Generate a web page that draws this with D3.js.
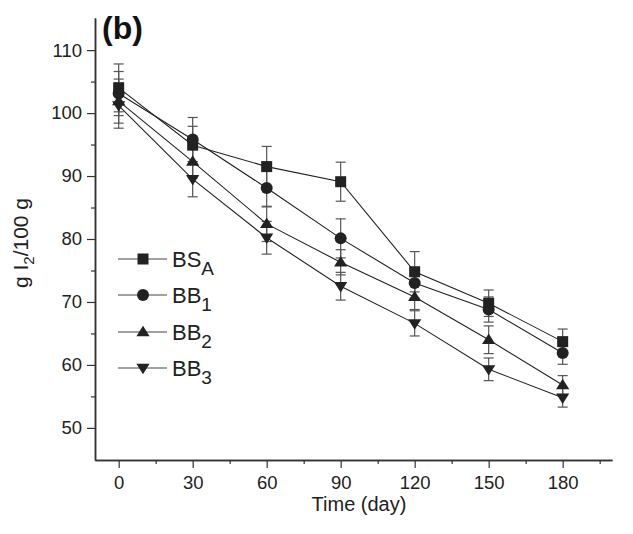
<!DOCTYPE html>
<html>
<head>
<meta charset="utf-8">
<script src="https://cdn.jsdelivr.net/npm/d3@7"></script>
<style>
  html, body { margin: 0; padding: 0; background: #fff; }
  svg { display: block; font-family: "Liberation Sans", Arial, sans-serif; }
</style>
</head>
<body>
<svg id="chart" width="633" height="534"></svg>
<script>
// Sampling days
const days = [0, 30, 60, 90, 120, 150, 180];

// Iodine value (g I2/100 g) per blend, with standard deviations
const bsA = [104.0, 94.9, 91.5, 89.1, 74.8, 69.8, 63.7];
const bb1 = [103.1, 95.8, 88.1, 80.1, 73.0, 68.8, 61.9];
const bb2 = [101.9, 92.3, 82.4, 76.3, 70.8, 64.0, 56.8];
const bb3 = [101.2, 89.5, 80.2, 72.5, 66.6, 59.3, 54.8];

const bsAErr = [3.8, 3.0, 3.2, 3.1, 3.2, 2.1, 2.0];
const bb1Err = [3.5, 3.5, 3.0, 3.1, 2.4, 2.0, 1.8];
const bb2Err = [3.5, 2.6, 2.8, 2.0, 2.0, 2.2, 1.5];
const bb3Err = [3.6, 2.8, 2.6, 2.2, 2.0, 1.8, 1.5];

const seriesNames = ["BS", "BB", "BB", "BB"];
const seriesSubs = ["A", "1", "2", "3"];
const seriesShapes = ["square", "circle", "up", "down"];

const xTicks = [0, 30, 60, 90, 120, 150, 180];
const yTicks = [50, 60, 70, 80, 90, 100, 110];

const series = [bsA, bb1, bb2, bb3].map((vals, i) => ({
  name: seriesNames[i],
  sub: seriesSubs[i],
  shape: seriesShapes[i],
  values: vals.map((v, j) => ({ day: days[j], v, err: [bsAErr, bb1Err, bb2Err, bb3Err][i][j] }))
}));

const svg = d3.select("#chart");
const margin = { left: 95, top: 18, right: 21, bottom: 74 };
const W = 633, H = 534;

const x = d3.scaleLinear().domain([-9.6, 200]).range([margin.left, W - margin.right]);
const y = d3.scaleLinear().domain([44.9, 115.1]).range([H - margin.bottom, margin.top]);

const ink = "#222";
const axisInk = "#333";

// Axes
const xAxis = d3.axisBottom(x).tickValues(xTicks).tickSize(8).tickSizeOuter(0).tickPadding(8);
const xMinor = d3.axisBottom(x).tickValues(d3.range(15, 200, 30)).tickSize(4).tickSizeOuter(0).tickFormat("");
const yAxis = d3.axisLeft(y).tickValues(yTicks).tickSize(8).tickSizeOuter(0).tickPadding(5);
const yMinor = d3.axisLeft(y).tickValues(d3.range(55, 115, 10)).tickSize(4).tickSizeOuter(0).tickFormat("");

function styleAxis(g) {
  g.select(".domain").attr("stroke", axisInk).attr("stroke-width", 1.5);
  g.selectAll(".tick line").attr("stroke", axisInk).attr("stroke-width", 1.2);
  g.selectAll(".tick text").attr("fill", "#222").style("font-size", "18.5px")
    .style("font-family", "'Liberation Sans', Arial, sans-serif");
}

svg.append("g").attr("transform", `translate(0,${y.range()[0]})`).call(xMinor).call(styleAxis);
svg.append("g").attr("transform", `translate(0,${y.range()[0]})`).call(xAxis).call(styleAxis);
svg.append("g").attr("transform", `translate(${x.range()[0]},0)`).call(yMinor).call(styleAxis);
svg.append("g").attr("transform", `translate(${x.range()[0]},0)`).call(yAxis).call(styleAxis);

// Axis titles
svg.append("text")
  .attr("x", 359).attr("y", 511)
  .attr("text-anchor", "middle").attr("fill", "#222").style("font-size", "20px")
  .text("Time (day)");

const yt = svg.append("text")
  .attr("transform", `translate(28,${(y(44.9) + y(115.1)) / 2 + 4}) rotate(-90)`)
  .attr("text-anchor", "middle").attr("fill", "#222").style("font-size", "21px");
yt.append("tspan").text("g I");
yt.append("tspan").attr("dy", 6).style("font-size", "15px").text("2");
yt.append("tspan").attr("dy", -6).text("/100 g");

// Panel tag
svg.append("text").attr("x", 102).attr("y", 39)
  .style("font-size", "32px").style("font-weight", "bold").attr("fill", "#111")
  .text("(b)");

// Marker drawing
function marker(sel, shape, s) {
  if (shape === "square") {
    sel.append("rect").attr("x", -s / 2).attr("y", -s / 2).attr("width", s).attr("height", s);
  } else if (shape === "circle") {
    sel.append("circle").attr("r", s / 2 + 0.5);
  } else if (shape === "up") {
    const h = s * 0.95, w = s * 1.2;
    sel.append("path").attr("d", `M0,${-h * 0.6}L${w / 2},${h * 0.4}L${-w / 2},${h * 0.4}Z`);
  } else {
    const h = s * 0.95, w = s * 1.2;
    sel.append("path").attr("d", `M0,${h * 0.6}L${w / 2},${-h * 0.4}L${-w / 2},${-h * 0.4}Z`);
  }
}

const line = d3.line().x(d => x(d.day)).y(d => y(d.v));
const capW = 5;

// Error bars first, then lines and markers on top
series.forEach(s => {
  const g = svg.append("g").attr("stroke", "#555").attr("stroke-width", 1.2);
  s.values.forEach(d => {
    const cx = x(d.day);
    g.append("line").attr("x1", cx).attr("x2", cx).attr("y1", y(d.v - d.err)).attr("y2", y(d.v + d.err));
    g.append("line").attr("x1", cx - capW).attr("x2", cx + capW).attr("y1", y(d.v + d.err)).attr("y2", y(d.v + d.err));
    g.append("line").attr("x1", cx - capW).attr("x2", cx + capW).attr("y1", y(d.v - d.err)).attr("y2", y(d.v - d.err));
  });
});

series.forEach(s => {
  svg.append("path").datum(s.values).attr("d", line)
    .attr("fill", "none").attr("stroke", ink).attr("stroke-width", 1.1);
});

series.forEach(s => {
  s.values.forEach(d => {
    const g = svg.append("g").attr("transform", `translate(${x(d.day)},${y(d.v)})`).attr("fill", ink);
    marker(g, s.shape, 11);
  });
});

// Legend
const legendY = [259, 295, 332, 368];
series.forEach((s, i) => {
  const ly = legendY[i];
  svg.append("line").attr("x1", 118).attr("x2", 167).attr("y1", ly).attr("y2", ly)
    .attr("stroke", "#444").attr("stroke-width", 1.2);
  const g = svg.append("g").attr("transform", `translate(143,${ly})`).attr("fill", ink);
  marker(g, s.shape, 11);
  const t = svg.append("text").attr("x", 172).attr("y", ly + 8)
    .attr("fill", "#222").style("font-size", "22px");
  t.append("tspan").text(s.name);
  t.append("tspan").attr("dy", 8).style("font-size", "19px").text(s.sub);
});
</script>
</body>
</html>
